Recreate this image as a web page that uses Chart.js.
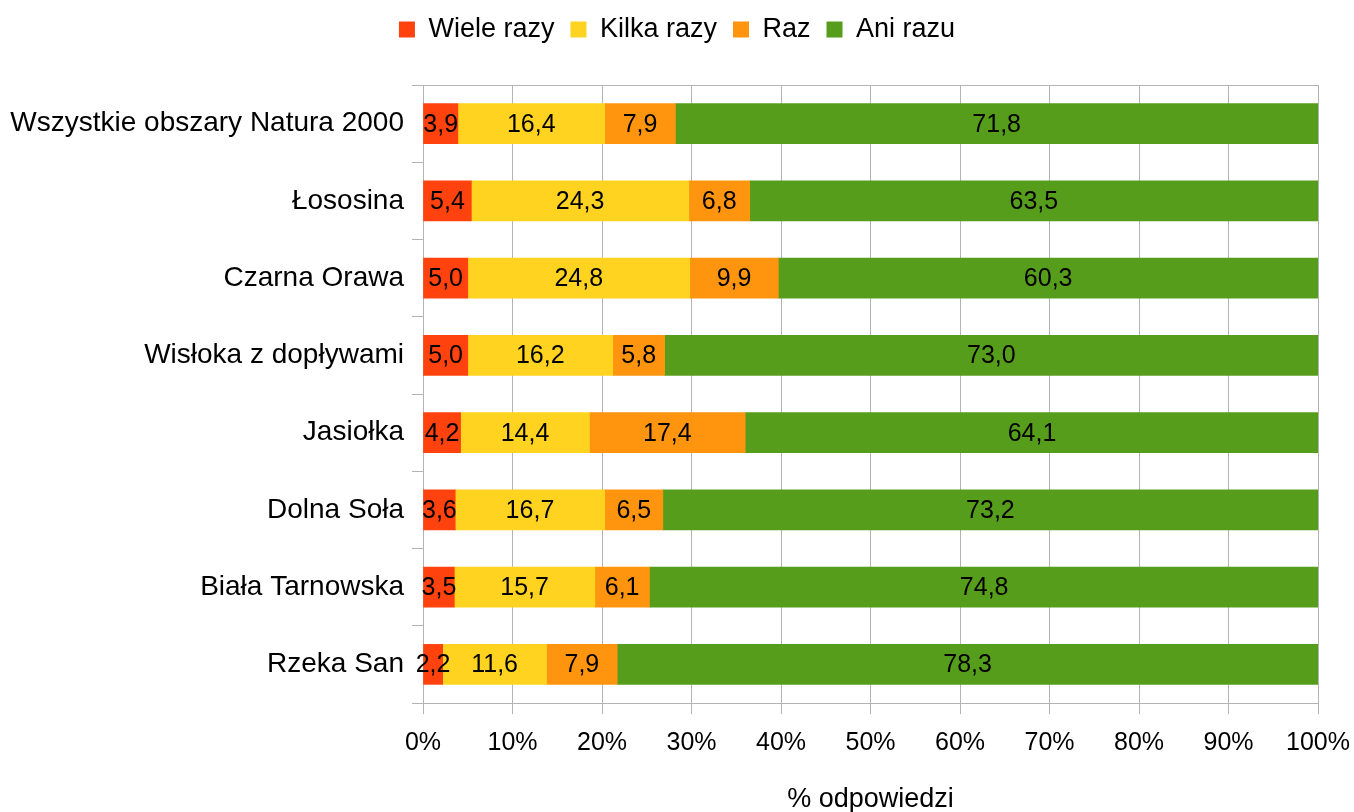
<!DOCTYPE html>
<html>
<head>
<meta charset="utf-8">
<script src="https://cdn.jsdelivr.net/npm/chart.js@4.4.1/dist/chart.umd.min.js"></script>
<style>
  html, body { margin: 0; padding: 0; background: #fff; }
  #wrap { width: 1354px; height: 812px; }
</style>
</head>
<body>
<div id="wrap"><canvas id="wykres"></canvas></div>
<script>
var obszary = ['Wszystkie obszary Natura 2000', 'Łososina', 'Czarna Orawa', 'Wisłoka z dopływami',
               'Jasiołka', 'Dolna Soła', 'Biała Tarnowska', 'Rzeka San'];
var wieleRazy = [3.9, 5.4, 5.0, 5.0, 4.2, 3.6, 3.5, 2.2];
var kilkaRazy = [16.4, 24.3, 24.8, 16.2, 14.4, 16.7, 15.7, 11.6];
var raz       = [7.9, 6.8, 9.9, 5.8, 17.4, 6.5, 6.1, 7.9];
var aniRazu   = [71.8, 63.5, 60.3, 73.0, 64.1, 73.2, 74.8, 78.3];
var procenty  = [0, 10, 20, 30, 40, 50, 60, 70, 80, 90, 100];

var czcionka = 'Liberation Sans, Arial, sans-serif';
var szary = '#b3b3b3';

Chart.defaults.font.family = czcionka;
Chart.defaults.font.size = 25;
Chart.defaults.color = '#000';

// wartosci w srodku kazdego segmentu, z przecinkiem dziesietnym
var etykiety = {
  id: 'etykiety',
  afterDatasetsDraw: function(chart) {
    var ctx = chart.ctx;
    ctx.save();
    ctx.font = '25px ' + czcionka;
    ctx.fillStyle = '#000';
    ctx.textAlign = 'center';
    ctx.textBaseline = 'middle';
    chart.data.datasets.forEach(function(ds, i) {
      chart.getDatasetMeta(i).data.forEach(function(bar, j) {
        var p = bar.getProps(['x', 'y', 'base'], true);
        var txt = ds.data[j].toFixed(1).replace('.', ',');
        ctx.fillText(txt, (p.x + p.base) / 2, p.y + 1);
      });
    });
    ctx.restore();
  }
};

// legenda wysrodkowana na calej szerokosci obrazka
var legendaSrodek = {
  id: 'legendaSrodek',
  afterLayout: function(chart) {
    var lg = chart.legend;
    var dx = (chart.width - (lg.left + lg.right)) / 2;
    lg.left += dx;
    lg.right += dx;
  }
};

new Chart(document.getElementById('wykres'), {
  type: 'bar',
  data: {
    labels: obszary,
    datasets: [
      { label: 'Wiele razy', data: wieleRazy, backgroundColor: '#ff420e' },
      { label: 'Kilka razy', data: kilkaRazy, backgroundColor: '#ffd320' },
      { label: 'Raz', data: raz, backgroundColor: '#ff950e' },
      { label: 'Ani razu', data: aniRazu, backgroundColor: '#579d1c' }
    ]
  },
  options: {
    indexAxis: 'y',
    responsive: true,
    maintainAspectRatio: false,
    animation: false,
    layout: { padding: { left: 0, right: 36, top: 0, bottom: 0 } },
    datasets: { bar: { barThickness: 40, borderWidth: 0 } },
    plugins: {
      tooltip: { enabled: false },
      legend: {
        position: 'top',
        labels: { boxWidth: 16, boxHeight: 16, padding: 16, font: { size: 27 } }
      }
    },
    scales: {
      x: {
        stacked: true,
        min: 0,
        max: 100,
        afterBuildTicks: function(scale) {
          scale.ticks = procenty.map(function(v) { return { value: v }; });
        },
        afterFit: function(scale) {
          scale.height = 109;
          scale.paddingRight = 0;
        },
        ticks: { padding: 14, callback: function(v) { return v + '%'; } },
        grid: { color: szary, tickLength: 11, lineWidth: 1 },
        border: { color: szary },
        title: { display: true, text: '% odpowiedzi', font: { size: 27 }, padding: { top: 20, bottom: -4 } }
      },
      // pusty odstep miedzy legenda a wykresem
      odstep: {
        type: 'linear',
        axis: 'x',
        position: 'top',
        afterFit: function(scale) { scale.height = 32; },
        ticks: { display: false },
        grid: { display: false, drawTicks: false },
        border: { display: false }
      },
      y: {
        stacked: true,
        afterFit: function(scale) { scale.width = 423; },
        ticks: { padding: 8, font: { size: 28 } },
        grid: {
          offset: true,
          tickLength: 11,
          tickColor: szary,
          color: function(c) {
            // tylko gorna i dolna krawedz przez caly wykres
            return (c.type === 'scale' || c.index === 0) ? szary : 'rgba(0,0,0,0)';
          }
        },
        border: { color: szary }
      }
    }
  },
  plugins: [etykiety, legendaSrodek]
});
</script>
</body>
</html>
